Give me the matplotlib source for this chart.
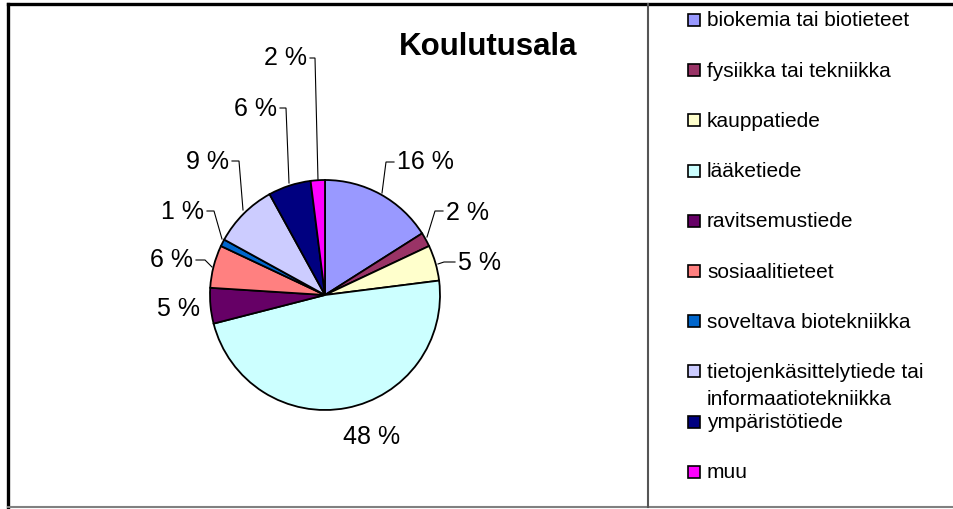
import matplotlib
matplotlib.use('Agg')
import matplotlib.pyplot as plt
from matplotlib.patches import Rectangle

plt.rcParams['font.family'] = ['Liberation Sans', 'DejaVu Sans']

# data
categories = ['biokemia tai biotieteet', 'fysiikka tai tekniikka', 'kauppatiede',
              'lääketiede', 'ravitsemustiede', 'sosiaalitieteet',
              'soveltava biotekniikka',
              'tietojenkäsittelytiede tai\ninformaatiotekniikka',
              'ympäristötiede', 'muu']
shares = [16, 2, 5, 48, 5, 6, 1, 9, 6, 2]
pct_labels = ['16 %', '2 %', '5 %', '48 %', '5 %', '6 %', '1 %', '9 %', '6 %', '2 %']
colors = ['#9999FF', '#993366', '#FFFFCC', '#CCFFFF', '#660066',
          '#FF8080', '#0066CC', '#CCCCFF', '#000080', '#FF00FF']

W, H = 954, 510
Y = lambda y: H - y  # pixel rows -> data y

fig = plt.figure(figsize=(W / 100, H / 100), dpi=100)
ax = fig.add_axes([0, 0, 1, 1])

ax.pie(shares, colors=colors, center=(325, Y(296)), radius=115,
       startangle=90, counterclock=False,
       wedgeprops=dict(edgecolor='black', linewidth=1.3))
ax.set_xlim(0, W)
ax.set_ylim(0, H)
ax.set_aspect('auto')
ax.axis('off')

# percentage labels: (text x, text y, ha, leader polyline in pixels or None)
label_layout = [
    (397, 162, 'left', [(382, 194), (386, 163), (394, 163)]),
    (446, 213, 'left', [(427, 238), (435, 212), (443, 212)]),
    (458, 263, 'left', [(438, 265), (444, 263), (455, 263)]),
    (372, 437, 'center', None),
    (200, 309, 'right', None),
    (193, 260, 'right', [(212, 268), (205, 261), (196, 261)]),
    (204, 212, 'right', [(222, 240), (214, 212), (207, 212)]),
    (229, 162, 'right', [(243, 211), (239, 162), (232, 162)]),
    (277, 109, 'right', [(289, 184), (286, 109), (280, 109)]),
    (307, 58, 'right', [(318, 181), (315, 59), (310, 59)]),
]
for txt, (tx, ty, ha, pts) in zip(pct_labels, label_layout):
    ax.text(tx, Y(ty), txt, fontsize=18, ha=ha, va='center', color='black')
    if pts:
        ax.plot([p[0] for p in pts], [Y(p[1]) for p in pts],
                color='black', lw=0.8, solid_joinstyle='miter')

ax.text(488, Y(47), 'Koulutusala', fontsize=22.5, fontweight='bold',
        ha='center', va='center')

# legend (second line of a wrapped entry just runs below its row)
for i, (name, col) in enumerate(zip(categories, colors)):
    ry = 21 + i * 50.2
    ax.add_patch(Rectangle((688, Y(ry + 6)), 12, 12, facecolor=col,
                           edgecolor='black', lw=1.2))
    for j, line in enumerate(name.split('\n')):
        ax.text(707, Y(ry + 27 * j), line, fontsize=15, ha='left', va='center')

# frame lines
ax.plot([8, W], [Y(5), Y(5)], color='black', lw=2.4)
ax.plot([8, 8], [Y(5), Y(H)], color='black', lw=2.4)
ax.plot([8, W], [Y(508), Y(508)], color='#808080', lw=1.5)
ax.plot([648, 648], [Y(5), Y(508)], color='#555555', lw=1.5)

fig.savefig('out.png', dpi=100)
